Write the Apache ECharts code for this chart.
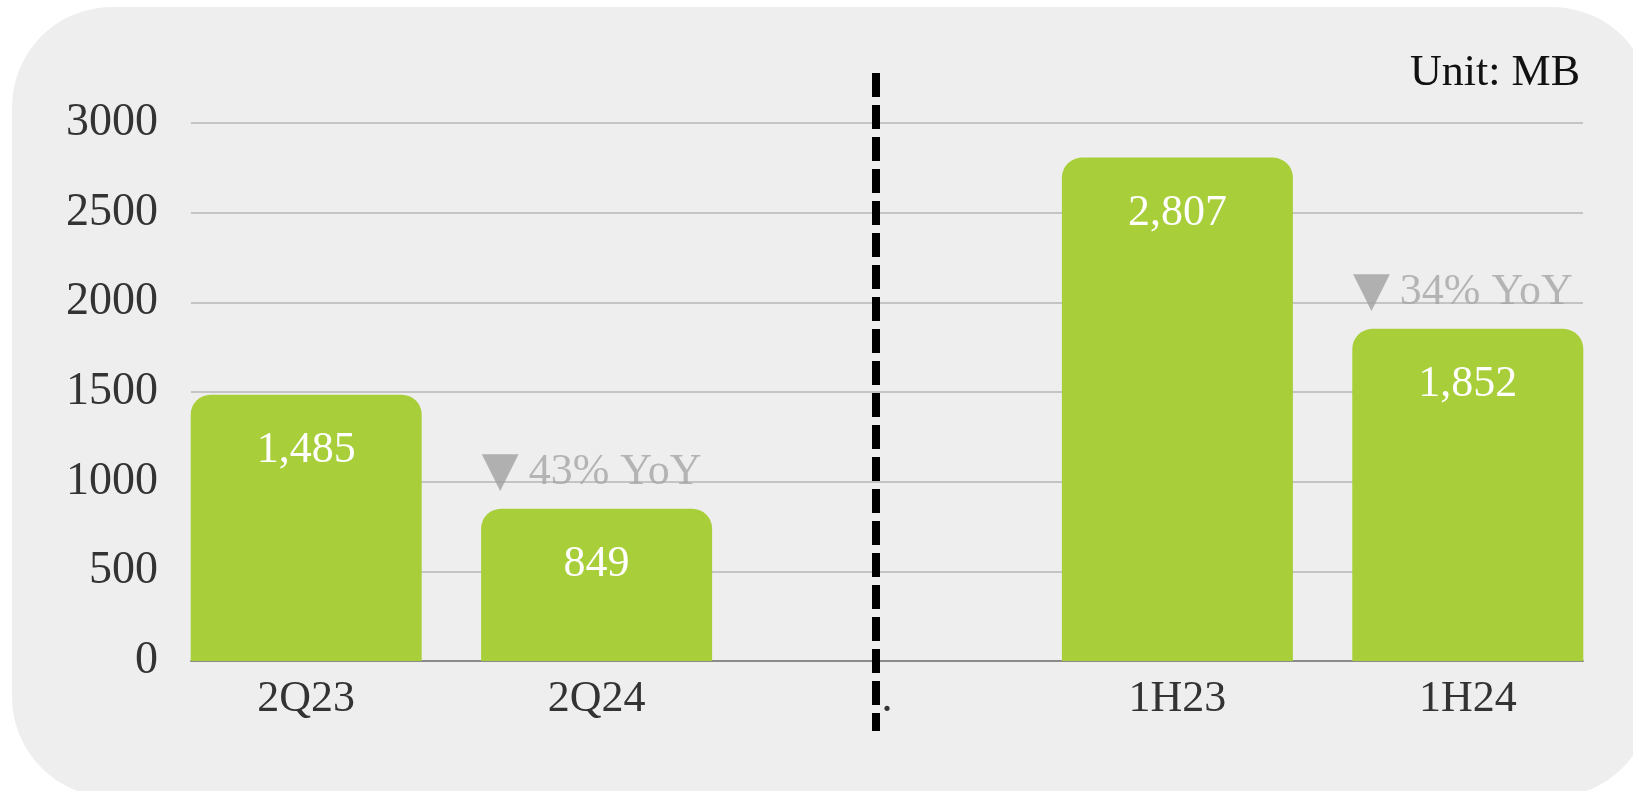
<!DOCTYPE html>
<html>
<head>
<meta charset="utf-8">
<style>
  html, body { margin: 0; padding: 0; background: #ffffff; }
  #chart { width: 1633px; height: 791px; }
</style>
<script src="https://cdn.jsdelivr.net/npm/echarts@6/dist/echarts.min.js"></script>
</head>
<body>
<div id="chart"></div>
<script>
// ---- data ----
const categories = ['2Q23', '2Q24', '.', '1H23', '1H24'];
const values = [1485, 849, null, 2807, 1852];
const yoyPct = [null, 43, null, null, 34];
const yTicks = { min: 0, max: 3000, interval: 500 };
const unitText = 'Unit: MB';

const serif = '"Liberation Serif", "DejaVu Serif", serif';
const chart = echarts.init(document.getElementById('chart'));

const yoyData = values.map((v, i) => yoyPct[i] == null ? null : v);

const bgRect = {
  type: 'rect', z: -10, silent: true,
  shape: { x: 12, y: 7, width: 1640, height: 790, r: 100 },
  style: { fill: '#eeeeee' }
};

const option = {
  backgroundColor: '#ffffff',
  animation: false,
  title: {
    text: unitText,
    right: 48, top: 46,
    textStyle: { fontFamily: serif, fontSize: 44, fontWeight: 'normal', color: '#111111' }
  },
  grid: [
    { left: 161, right: 20, top: 123, bottom: 130 },
    { left: 191, right: 50, top: 123, bottom: 130 }
  ],
  xAxis: [
    {
      type: 'category', gridIndex: 0, data: categories,
      axisLine: { show: false }, axisTick: { show: false },
      axisLabel: { fontFamily: serif, fontSize: 44, color: '#333333', margin: 16 }
    },
    {
      type: 'value', gridIndex: 1, min: 0, max: 1,
      axisLine: { show: true, lineStyle: { color: '#8a8a8a', width: 2 } },
      axisTick: { show: false }, axisLabel: { show: false }, splitLine: { show: false }
    }
  ],
  yAxis: [
    {
      type: 'value', gridIndex: 0, min: yTicks.min, max: yTicks.max, interval: yTicks.interval,
      show: false, splitLine: { show: false }
    },
    {
      type: 'value', gridIndex: 1, min: yTicks.min, max: yTicks.max, interval: yTicks.interval,
      axisLine: { show: false }, axisTick: { show: false },
      axisLabel: { fontFamily: serif, fontSize: 46, color: '#333333', margin: 33, formatter: v => String(v) },
      splitLine: { show: true, lineStyle: { color: '#c4c4c4', width: 2 } }
    }
  ],
  series: [
    {
      type: 'bar', xAxisIndex: 0, yAxisIndex: 0, z: 3,
      data: values,
      barWidth: 231,
      itemStyle: { color: '#a8ce3a', borderRadius: [20, 20, 0, 0] },
      label: {
        show: true, position: 'insideTop', distance: 34,
        fontFamily: serif, fontSize: 44, color: '#ffffff',
        formatter: p => p.value == null ? '' : p.value.toLocaleString('en-US')
      }
    },
    {
      type: 'scatter', xAxisIndex: 0, yAxisIndex: 0, z: 4,
      data: yoyData,
      symbolSize: 0,
      label: {
        show: true, position: 'top', distance: 12, offset: [-5, 0],
        formatter: p => {
          const pct = yoyPct[p.dataIndex];
          return pct == null ? '' : '{t|▼}{v|' + pct + '% YoY}';
        },
        rich: {
          t: { fontFamily: '"DejaVu Sans", sans-serif', fontSize: 48, color: '#a0a0a0', padding: [0, 10, 0, 0] },
          v: { fontFamily: serif, fontSize: 44, color: '#a5a5a5' }
        }
      }
    }
  ],
  graphic: [bgRect]
};
chart.setOption(option);

// dashed divider at the '.' category
const xSep = chart.convertToPixel({ xAxisIndex: 0 }, '.') - 11;
chart.setOption({
  graphic: [
    bgRect,
    {
      type: 'line', z: 10, silent: true,
      shape: { x1: xSep, y1: 73, x2: xSep, y2: 731 },
      style: { stroke: '#000000', lineWidth: 8, lineDash: [24, 8] }
    }
  ]
});
</script>
</body>
</html>
